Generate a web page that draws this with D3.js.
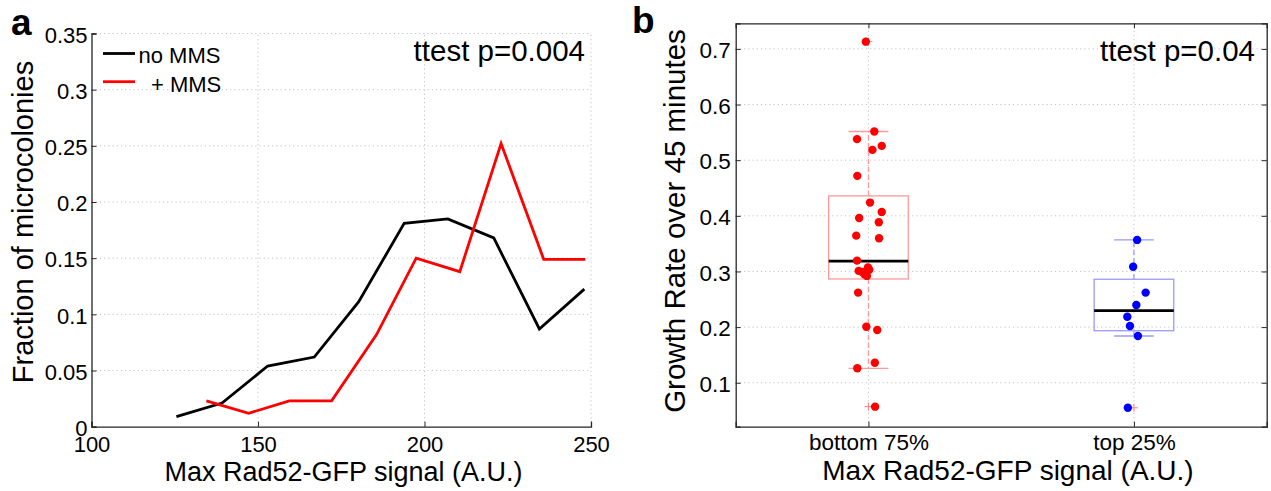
<!DOCTYPE html>
<html>
<head>
<meta charset="utf-8">
<script src="https://cdn.jsdelivr.net/npm/d3@7"></script>
<style>
  html, body { margin: 0; padding: 0; background: #fff; }
  svg { display: block; font-family: "Liberation Sans", Arial, Helvetica, sans-serif; }
</style>
</head>
<body>
<svg id="fig" width="1271" height="491"></svg>
<script>
// ---- Panel a: distribution of max Rad52-GFP signal ----
const binsNoMMS = [125.5, 139.2, 152.9, 166.9, 180.2, 193.9, 207.0, 220.8, 234.5, 248.0];
const fracNoMMS = [0.009, 0.021, 0.054, 0.062, 0.111, 0.181, 0.185, 0.168, 0.087, 0.1225];
const binsMMS   = [134.5, 147.2, 159.4, 172.1, 185.6, 197.5, 210.6, 223.0, 235.8, 248.3];
const fracMMS   = [0.023, 0.012, 0.023, 0.023, 0.082, 0.150, 0.138, 0.252, 0.149, 0.149];
const xTicksA = [100, 150, 200, 250];
const yTicksA = [0, 0.05, 0.1, 0.15, 0.2, 0.25, 0.3, 0.35];
const legendLabels = ["no MMS", "+ MMS"];
const pTextA = "ttest p=0.004";

// ---- Panel b: growth rate by Rad52 signal group ----
const groups = ["bottom 75%", "top 25%"];
const rateBottom = [0.713, 0.5515, 0.5378, 0.5257, 0.5185, 0.4718, 0.4238, 0.407, 0.3962, 0.3885,
                    0.3644, 0.3597, 0.3195, 0.301, 0.307, 0.303, 0.295, 0.292, 0.299, 0.262,
                    0.2007, 0.1948, 0.136, 0.126, 0.057];
const jitterBottom = [-0.010, 0.022, -0.043, 0.050, 0.015, -0.042, 0.006, 0.050, -0.035, 0.039,
                      -0.046, 0.040, -0.043, -0.037, -0.002, 0.003, -0.015, -0.006, -0.024, -0.039,
                      -0.008, 0.033, 0.024, -0.042, 0.025];
const rateTop = [0.3567, 0.3086, 0.262, 0.2397, 0.2187, 0.202, 0.184, 0.055];
const jitterTop = [0.012, -0.003, 0.044, 0.009, -0.025, -0.015, 0.015, -0.023];
// box summaries: [lower whisker, q1, median, q3, upper whisker]
const boxBottom = [0.126, 0.2865, 0.3185, 0.4358, 0.5515];
const boxTop    = [0.184, 0.1935, 0.2295, 0.286, 0.3567];
const outliersBottom = [0.713, 0.057];
const outliersTop = [0.055];
const yTicksB = [0.1, 0.2, 0.3, 0.4, 0.5, 0.6, 0.7];
const pTextB = "ttest p=0.04";

const xTitle = "Max Rad52-GFP signal (A.U.)";

const svg = d3.select("#fig");
const AXIS = "#262626";
const GRID = "#c4c4c4";
const TICK_FONT = 22;

function dottedGrid(g, lines) {
  g.selectAll(null).data(lines).join("line")
    .attr("x1", d => d[0]).attr("y1", d => d[1])
    .attr("x2", d => d[2]).attr("y2", d => d[3])
    .attr("stroke", GRID).attr("stroke-width", 1)
    .attr("stroke-dasharray", "1.2,3");
}

// ================= Panel a =================
{
  const x = d3.scaleLinear().domain([100, 250]).range([91.5, 591]);
  const y = d3.scaleLinear().domain([0, 0.35]).range([426.7, 33.5]);
  const g = svg.append("g");

  // grid
  const gl = [];
  yTicksA.filter(v => v > 0).forEach(v => gl.push([x(100), y(v), x(250), y(v)]));
  xTicksA.filter(v => v > 100).forEach(v => gl.push([x(v), y(0), x(v), y(0.35)]));
  dottedGrid(g.append("g"), gl);

  // axes (ticks inward)
  const ax = g.append("g").attr("transform", `translate(0,${y(0)})`)
    .call(d3.axisBottom(x).tickValues(xTicksA).tickSize(-5).tickPadding(9).tickFormat(d3.format("d")));
  const ay = g.append("g").attr("transform", `translate(${x(100)},0)`)
    .call(d3.axisLeft(y).tickValues(yTicksA).tickSize(-5).tickPadding(4).tickFormat(d => d === 0 ? "0" : String(+d.toFixed(2))));
  [ax, ay].forEach(a => {
    a.select(".domain").attr("stroke", AXIS).attr("stroke-width", 1.3);
    a.selectAll(".tick line").attr("stroke", AXIS);
    a.selectAll("text").attr("font-size", TICK_FONT).attr("fill", "#000").attr("font-family", null);
  });
  ax.selectAll("text").attr("dy", "0.72em");
  ay.selectAll("text").attr("dy", "0.4em");

  // lines
  const line = d3.line().x(d => x(d[0])).y(d => y(d[1]));
  g.append("path").datum(d3.zip(binsNoMMS, fracNoMMS)).attr("d", line)
    .attr("fill", "none").attr("stroke", "#000").attr("stroke-width", 2.8).attr("stroke-linejoin", "miter");
  g.append("path").datum(d3.zip(binsMMS, fracMMS)).attr("d", line)
    .attr("fill", "none").attr("stroke", "#ff0000").attr("stroke-width", 2.8).attr("stroke-linejoin", "miter");

  // legend
  const lg = g.append("g");
  const legColors = ["#000", "#ff0000"];
  const legX = [138.5, 151];
  legendLabels.forEach((lab, i) => {
    const ly = 53.5 + i * 28.2;
    lg.append("line").attr("x1", 103).attr("x2", 135).attr("y1", ly).attr("y2", ly)
      .attr("stroke", legColors[i]).attr("stroke-width", 2.8);
    lg.append("text").attr("x", legX[i]).attr("y", ly + 9.8).attr("font-size", 22).text(lab);
  });

  g.append("text").attr("x", 585).attr("y", 61).attr("text-anchor", "end")
    .attr("font-size", 29.5).text(pTextA);

  // titles
  g.append("text").attr("x", 343.5).attr("y", 481).attr("text-anchor", "middle")
    .attr("font-size", 27).text(xTitle);
  g.append("text").attr("transform", "translate(33,222) rotate(-90)").attr("text-anchor", "middle")
    .attr("font-size", 29).text("Fraction of microcolonies");
  g.append("text").attr("x", 11).attr("y", 35).attr("font-size", 37).attr("font-weight", "bold").text("a");
}

// ================= Panel b =================
{
  const x = d3.scaleLinear().domain([0.5, 2.5]).range([735.7, 1266.7]);
  const y = d3.scaleLinear().domain([0.021, 0.746]).range([426.7, 23.3]);
  const g = svg.append("g");

  const gl = [];
  yTicksB.forEach(v => gl.push([x(0.5), y(v), x(2.5), y(v)]));
  [1, 2].forEach(v => gl.push([x(v), y(0.021), x(v), y(0.746)]));
  dottedGrid(g.append("g"), gl);

  // box frame with inward ticks on all four sides
  const ax = g.append("g").attr("transform", `translate(0,${y(0.021)})`)
    .call(d3.axisBottom(x).tickValues([1, 2]).tickSize(-5).tickPadding(8).tickFormat((d, i) => groups[i]));
  const axT = g.append("g").attr("transform", `translate(0,${y(0.746)})`)
    .call(d3.axisTop(x).tickValues([1, 2]).tickSize(-5).tickFormat(""));
  const ay = g.append("g").attr("transform", `translate(${x(0.5)},0)`)
    .call(d3.axisLeft(y).tickValues(yTicksB).tickSize(-5).tickPadding(5).tickFormat(d3.format(".1f")));
  const ayR = g.append("g").attr("transform", `translate(${x(2.5)},0)`)
    .call(d3.axisRight(y).tickValues(yTicksB).tickSize(-5).tickFormat(""));
  [ax, axT, ay, ayR].forEach(a => {
    a.select(".domain").attr("stroke", AXIS).attr("stroke-width", 1.3);
    a.selectAll(".tick line").attr("stroke", AXIS);
    a.selectAll("text").attr("font-size", TICK_FONT + 0.5).attr("fill", "#000").attr("font-family", null);
  });
  ax.selectAll("text").attr("dy", "0.7em");
  ay.selectAll("text").attr("dy", "0.38em");

  const boxW = 0.3, capW = 0.15;
  const specs = [
    { pos: 1, stats: boxBottom, vals: rateBottom, jit: jitterBottom, out: outliersBottom, col: "#ff0000", light: "#ff9a9a" },
    { pos: 2, stats: boxTop, vals: rateTop, jit: jitterTop, out: outliersTop, col: "#0000ff", light: "#9a9aff" }
  ];
  specs.forEach(s => {
    const [wl, q1, med, q3, wh] = s.stats;
    const bg = g.append("g");
    // whiskers with end caps
    [[q3, wh], [q1, wl]].forEach(([a, b]) => {
      bg.append("line").attr("x1", x(s.pos)).attr("x2", x(s.pos)).attr("y1", y(a)).attr("y2", y(b))
        .attr("stroke", s.light).attr("stroke-width", 1.3).attr("stroke-dasharray", "5,3");
      bg.append("line").attr("x1", x(s.pos - capW / 2)).attr("x2", x(s.pos + capW / 2))
        .attr("y1", y(b)).attr("y2", y(b)).attr("stroke", s.light).attr("stroke-width", 1.3);
    });
    // box
    bg.append("rect").attr("x", x(s.pos - boxW / 2)).attr("y", y(q3))
      .attr("width", x(s.pos + boxW / 2) - x(s.pos - boxW / 2)).attr("height", y(q1) - y(q3))
      .attr("fill", "none").attr("stroke", s.light).attr("stroke-width", 1.3);
    // outlier "+" markers
    s.out.forEach(v => {
      const cx = x(s.pos), cy = y(v);
      bg.append("path").attr("d", `M${cx - 4},${cy}H${cx + 4}M${cx},${cy - 4}V${cy + 4}`)
        .attr("stroke", "#ff8080").attr("stroke-width", 1);
    });
    // median
    bg.append("line").attr("x1", x(s.pos - boxW / 2)).attr("x2", x(s.pos + boxW / 2))
      .attr("y1", y(med)).attr("y2", y(med)).attr("stroke", "#000").attr("stroke-width", 2.8);
    // jittered points
    bg.selectAll("circle").data(d3.zip(s.vals, s.jit)).join("circle")
      .attr("cx", d => x(s.pos + d[1])).attr("cy", d => y(d[0])).attr("r", 4.2)
      .attr("fill", s.col);
  });

  g.append("text").attr("x", 1255).attr("y", 61).attr("text-anchor", "end")
    .attr("font-size", 29.5).text(pTextB);

  g.append("text").attr("x", 1008).attr("y", 480).attr("text-anchor", "middle")
    .attr("font-size", 28).text(xTitle);
  g.append("text").attr("transform", "translate(685,221) rotate(-90)").attr("text-anchor", "middle")
    .attr("font-size", 29.5).text("Growth Rate over 45 minutes");
  g.append("text").attr("x", 632).attr("y", 33).attr("font-size", 37).attr("font-weight", "bold").text("b");
}
</script>
</body>
</html>
